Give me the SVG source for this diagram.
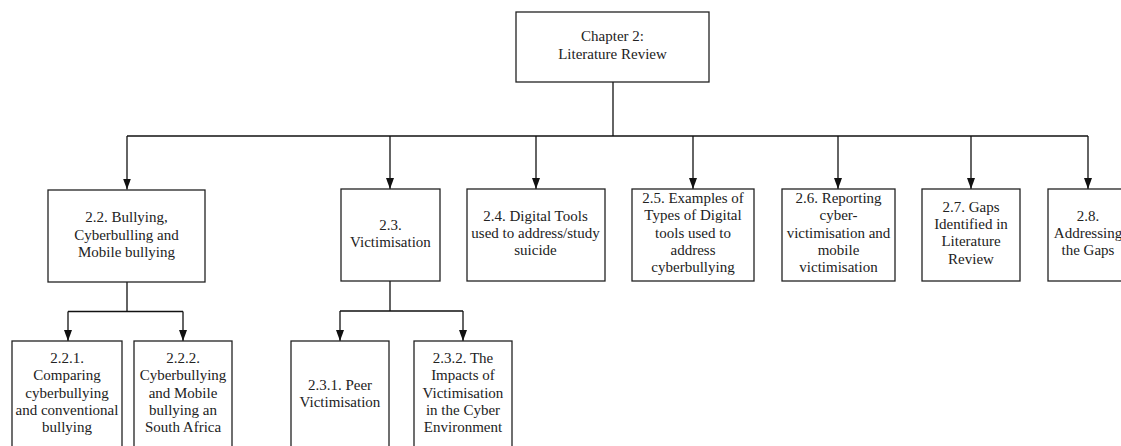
<svg xmlns="http://www.w3.org/2000/svg" width="1121" height="446" viewBox="0 0 1121 446">
<style>
.box{fill:#fff;stroke:#222;stroke-width:1.3}
.t{font-family:"Liberation Serif","Times New Roman",serif;font-size:15px;fill:#222;text-anchor:middle}
.c{fill:none;stroke:#111;stroke-width:1.3}
</style>
<defs>
<marker id="ah" markerUnits="userSpaceOnUse" markerWidth="11" markerHeight="8" refX="11" refY="4" orient="auto" viewBox="0 0 11 8">
<path d="M0,0 L11,4 L0,8 z" fill="#111"/>
</marker>
</defs>
<rect width="1121" height="446" fill="#fff"/>
<g id="connectors">
<path class="c" d="M613,82 V136"/>
<path class="c" d="M127,136 H1088"/>
<path class="c" d="M127,136 V189.5" marker-end="url(#ah)"/>
<path class="c" d="M390,136 V189" marker-end="url(#ah)"/>
<path class="c" d="M536,136 V189" marker-end="url(#ah)"/>
<path class="c" d="M693,136 V189" marker-end="url(#ah)"/>
<path class="c" d="M838,136 V189" marker-end="url(#ah)"/>
<path class="c" d="M971,136 V189" marker-end="url(#ah)"/>
<path class="c" d="M1088,136 V189" marker-end="url(#ah)"/>
<path class="c" d="M127,282 V311.5 M68,311.5 H183"/>
<path class="c" d="M68,311.5 V341" marker-end="url(#ah)"/>
<path class="c" d="M183,311.5 V341" marker-end="url(#ah)"/>
<path class="c" d="M390,281 V311 M340,311 H463"/>
<path class="c" d="M340,311 V341" marker-end="url(#ah)"/>
<path class="c" d="M463,311 V341" marker-end="url(#ah)"/>
</g>
<g id="n2">
<rect class="box" x="516" y="12" width="193" height="70"/>
<text class="t" x="612.5" y="41">Chapter 2:</text>
<text class="t" x="612.5" y="58.5">Literature Review</text>
</g>
<g id="n22">
<rect class="box" x="48" y="190" width="157" height="92"/>
<text class="t" x="126.5" y="222.3">2.2. Bullying,</text>
<text class="t" x="126.5" y="239.5">Cyberbulling and</text>
<text class="t" x="126.5" y="256.7">Mobile bullying</text>
</g>
<g id="n23">
<rect class="box" x="341" y="189" width="99" height="92"/>
<text class="t" x="390.5" y="230">2.3.</text>
<text class="t" x="390.5" y="247">Victimisation</text>
</g>
<g id="n24">
<rect class="box" x="467" y="189" width="138" height="92"/>
<text class="t" x="535.5" y="220.7">2.4. Digital Tools</text>
<text class="t" x="535.5" y="237.8">used to address/study</text>
<text class="t" x="535.5" y="255">suicide</text>
</g>
<g id="n25">
<rect class="box" x="632" y="189" width="122" height="92"/>
<text class="t" x="693" y="203.3">2.5. Examples of</text>
<text class="t" x="693" y="220.4">Types of Digital</text>
<text class="t" x="693" y="237.5">tools used to</text>
<text class="t" x="693" y="254.6">address</text>
<text class="t" x="693" y="271.7">cyberbullying</text>
</g>
<g id="n26">
<rect class="box" x="782" y="189" width="113" height="92"/>
<text class="t" x="838.5" y="203.3">2.6. Reporting</text>
<text class="t" x="838.5" y="220.4">cyber-</text>
<text class="t" x="838.5" y="237.5">victimisation and</text>
<text class="t" x="838.5" y="254.6">mobile</text>
<text class="t" x="838.5" y="271.7">victimisation</text>
</g>
<g id="n27">
<rect class="box" x="922" y="189" width="98" height="92"/>
<text class="t" x="971" y="212">2.7. Gaps</text>
<text class="t" x="971" y="229.2">Identified in</text>
<text class="t" x="971" y="246.4">Literature</text>
<text class="t" x="971" y="263.6">Review</text>
</g>
<g id="n28">
<rect class="box" x="1048" y="189" width="80" height="92"/>
<text class="t" x="1088" y="220.7">2.8.</text>
<text class="t" x="1088" y="237.8">Addressing</text>
<text class="t" x="1088" y="255">the Gaps</text>
</g>
<g id="n221">
<rect class="box" x="12" y="341" width="110" height="110"/>
<text class="t" x="67" y="363.3">2.2.1.</text>
<text class="t" x="67" y="380.4">Comparing</text>
<text class="t" x="67" y="397.5">cyberbullying</text>
<text class="t" x="67" y="414.6">and conventional</text>
<text class="t" x="67" y="431.7">bullying</text>
</g>
<g id="n222">
<rect class="box" x="134" y="341" width="98" height="110"/>
<text class="t" x="183" y="363.3">2.2.2.</text>
<text class="t" x="183" y="380.4">Cyberbullying</text>
<text class="t" x="183" y="397.5">and Mobile</text>
<text class="t" x="183" y="414.6">bullying an</text>
<text class="t" x="183" y="431.7">South Africa</text>
</g>
<g id="n231">
<rect class="box" x="291" y="341" width="98" height="110"/>
<text class="t" x="340" y="390">2.3.1. Peer</text>
<text class="t" x="340" y="407">Victimisation</text>
</g>
<g id="n232">
<rect class="box" x="414" y="341" width="98" height="110"/>
<text class="t" x="463" y="363.3">2.3.2. The</text>
<text class="t" x="463" y="380.4">Impacts of</text>
<text class="t" x="463" y="397.5">Victimisation</text>
<text class="t" x="463" y="414.6">in the Cyber</text>
<text class="t" x="463" y="431.7">Environment</text>
</g>
</svg>
